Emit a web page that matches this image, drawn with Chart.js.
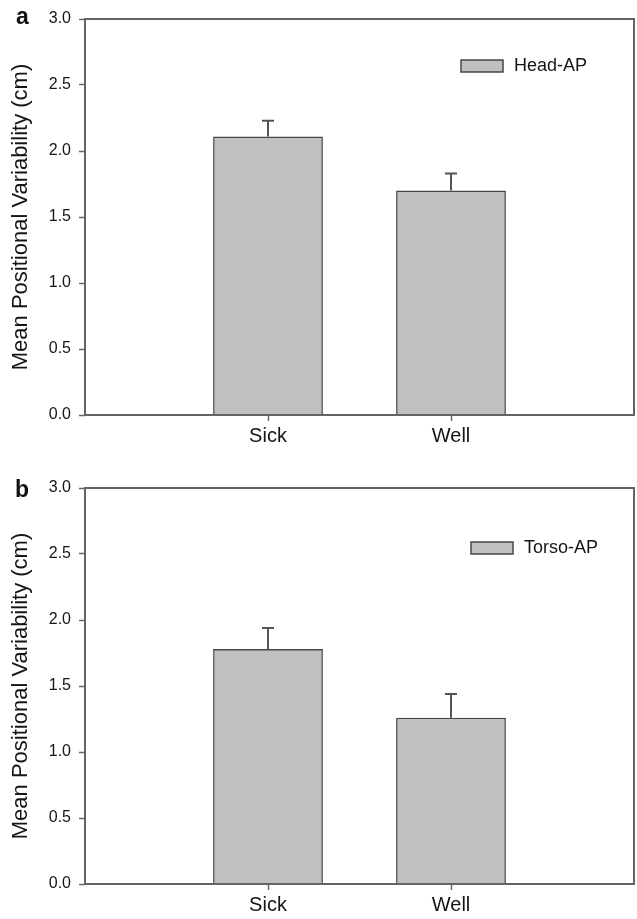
<!DOCTYPE html>
<html>
<head>
<meta charset="utf-8">
<script src="https://cdn.jsdelivr.net/npm/chart.js@4.4.1/dist/chart.umd.min.js"></script>
<style>
  html, body { margin: 0; padding: 0; background: #ffffff; }
  #wrap { position: relative; width: 637px; height: 919px; overflow: hidden; }
  .panel { position: absolute; left: 0; width: 637px; height: 450px; }
  .letter { position: absolute; font-family: "Liberation Sans", Arial, sans-serif; font-weight: bold; font-size: 23px; line-height: 23px; color: #111; }
</style>
</head>
<body>
<div id="wrap">
  <div class="panel" style="top:0px"><canvas id="chartA" width="637" height="450"></canvas></div>
  <div class="panel" style="top:469px"><canvas id="chartB" width="637" height="450"></canvas></div>
  <div class="letter" style="left:16px; top:5px">a</div>
  <div class="letter" style="left:15px; top:478px">b</div>
</div>
<script>
// ---- data ----
const categories = ['', 'Sick', 'Well', ''];
const headAP = [null, 2.11, 1.70, null];
const headAPErr = [null, 0.12, 0.13, null];
const torsoAP = [null, 1.78, 1.26, null];
const torsoAPErr = [null, 0.16, 0.18, null];
const yTickValues = [0.0, 0.5, 1.0, 1.5, 2.0, 2.5, 3.0];
const yTitle = 'Mean Positional Variability (cm)';

const FONT = '"Liberation Sans", Arial, sans-serif';

const frameAndExtras = {
  id: 'frameAndExtras',
  afterDatasetsDraw(chart, args, opts) {
    const ctx = chart.ctx;
    const y = chart.scales.y;
    // error bars
    chart.data.datasets.forEach((ds, di) => {
      const meta = chart.getDatasetMeta(di);
      const errs = ds.errors || [];
      ds.data.forEach((v, i) => {
        if (v == null || errs[i] == null) return;
        const el = meta.data[i];
        const x = el.x;
        const yb = y.getPixelForValue(v);
        const yt = y.getPixelForValue(v + errs[i]);
        ctx.save();
        ctx.strokeStyle = '#555555';
        ctx.lineWidth = 2;
        ctx.beginPath();
        ctx.moveTo(x, yb);
        ctx.lineTo(x, yt);
        ctx.moveTo(x - 6, yt);
        ctx.lineTo(x + 6, yt);
        ctx.stroke();
        ctx.restore();
      });
    });
  },
  afterDraw(chart, args, opts) {
    const ctx = chart.ctx;
    const a = chart.chartArea;
    ctx.save();
    // frame
    ctx.strokeStyle = '#646464';
    ctx.lineWidth = 2;
    ctx.strokeRect(a.left, a.top, a.right - a.left, a.bottom - a.top);
    // legend
    const ds = chart.data.datasets[0];
    const bx = a.left + opts.dx, by = a.top + opts.dy;
    ctx.fillStyle = ds.backgroundColor;
    ctx.fillRect(bx, by, 42, 12);
    ctx.strokeStyle = ds.borderColor;
    ctx.lineWidth = 1.5;
    ctx.strokeRect(bx, by, 42, 12);
    ctx.fillStyle = '#151515';
    ctx.font = '18px ' + FONT;
    ctx.textBaseline = 'middle';
    ctx.textAlign = 'left';
    ctx.fillText(ds.label, bx + 53, by + 6.5);
    ctx.restore();
  }
};

function makeChart(id, label, values, errors, legendPos) {
  return new Chart(document.getElementById(id), {
    type: 'bar',
    data: {
      labels: categories,
      datasets: [{
        label: label,
        data: values,
        errors: errors,
        backgroundColor: '#c0c0c0',
        borderColor: '#474747',
        borderWidth: 1.6,
        borderSkipped: 'bottom',
        barPercentage: 0.6,
        categoryPercentage: 1.0
      }]
    },
    options: {
      responsive: false,
      animation: false,
      events: [],
      layout: { padding: { top: 19, right: 3, left: 0, bottom: 0 } },
      plugins: {
        legend: { display: false },
        tooltip: { enabled: false },
        frameAndExtras: legendPos
      },
      scales: {
        x: {
          type: 'category',
          offset: false,
          grid: {
            offset: false,
            drawOnChartArea: false,
            drawTicks: true,
            tickLength: 6,
            tickWidth: 1.5,
            tickColor: (c) => (c.tick && c.tick.label) ? '#666666' : 'rgba(0,0,0,0)'
          },
          border: { display: false },
          ticks: {
            color: '#151515',
            font: { family: FONT, size: 20 },
            padding: 3,
            maxRotation: 0,
            autoSkip: false
          },
          afterFit: (s) => { s.height = 35; }
        },
        y: {
          min: 0,
          max: 3,
          afterBuildTicks: (s) => { s.ticks = yTickValues.map(v => ({ value: v })); },
          grid: {
            drawOnChartArea: false,
            drawTicks: true,
            tickLength: 6,
            tickWidth: 1.5,
            tickColor: '#666666'
          },
          border: { display: false },
          ticks: {
            color: '#151515',
            font: { family: FONT, size: 16 },
            padding: 8,
            callback: (v) => Number(v).toFixed(1)
          },
          title: {
            display: true,
            text: yTitle,
            color: '#151515',
            font: { family: FONT, size: 22 },
            padding: { top: 8, bottom: 0 }
          },
          afterFit: (s) => { s.width = 85; }
        }
      }
    },
    plugins: [frameAndExtras]
  });
}

makeChart('chartA', 'Head-AP', headAP, headAPErr, { dx: 376, dy: 41 });
makeChart('chartB', 'Torso-AP', torsoAP, torsoAPErr, { dx: 386, dy: 54 });
</script>
</body>
</html>
